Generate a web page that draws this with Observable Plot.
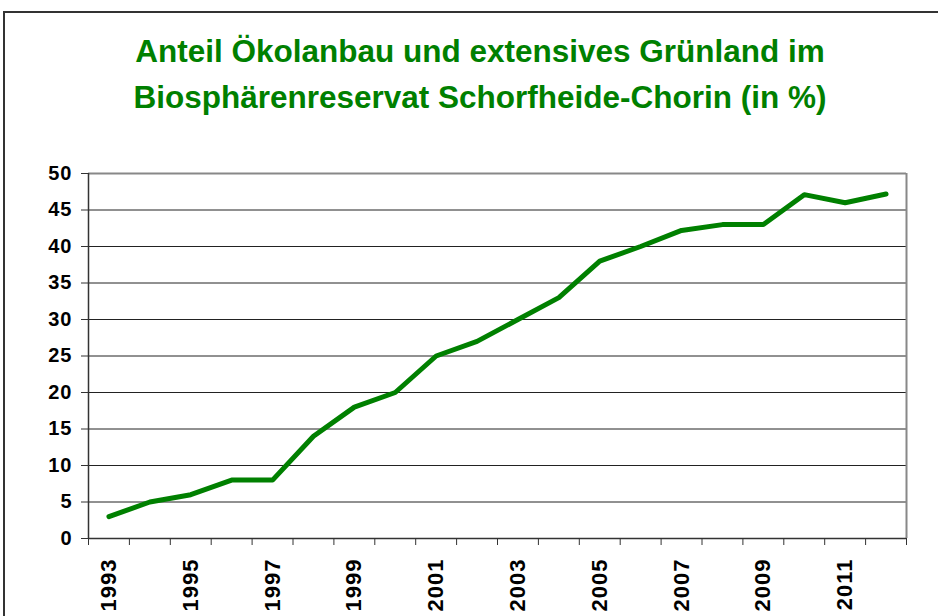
<!DOCTYPE html>
<html>
<head>
<meta charset="utf-8">
<script src="https://cdn.jsdelivr.net/npm/d3@7"></script>
<script src="https://cdn.jsdelivr.net/npm/@observablehq/plot@0.6"></script>
<style>
  html, body { margin: 0; padding: 0; background: #fff; overflow: hidden; }
  body { width: 938px; height: 616px; position: relative; font-family: "Liberation Sans", Arial, sans-serif; }
  #frame { position: absolute; left: 3px; top: 11px; width: 960px; height: 700px; border-left: 2px solid #333; border-top: 2px solid #333; box-sizing: border-box; }
  #title { position: absolute; left: 30px; width: 900px; top: 28px; text-align: center; color: #008000; font-weight: bold; font-size: 31.5px; line-height: 46px; }
  #chart { position: absolute; left: 0; top: 140px; }
  #chart svg text { font-weight: bold; }
  #chart g[aria-label="y-axis tick label"] text { letter-spacing: 1px; }
  #chart g[aria-label="x-axis tick label"] text { letter-spacing: 1px; }
</style>
</head>
<body>
<div id="frame"></div>
<div id="title">Anteil Ökolanbau und extensives Grünland im<br>Biosphärenreservat Schorfheide-Chorin (in %)</div>
<div id="chart"></div>
<script>
const years = [1993,1994,1995,1996,1997,1998,1999,2000,2001,2002,2003,2004,2005,2006,2007,2008,2009,2010,2011,2012];
const shares = [3,5,6,8,8,14,18,20,25,27,30,33,38,40,42.2,43,43,47.1,46,47.2];
const yTicks = [0,5,10,15,20,25,30,35,40,45,50];
const labelYears = [1993,1995,1997,1999,2001,2003,2005,2007,2009,2011];

const data = years.map((y, i) => ({year: y, value: shares[i]}));
const edges = years.map(y => y - 0.5).concat([years[years.length - 1] + 0.5]);
const font = "'Liberation Sans', Arial, sans-serif";

const chart = Plot.plot({
  width: 938,
  height: 480,
  marginLeft: 88,
  marginRight: 32,
  marginTop: 33,
  marginBottom: 82,
  style: {fontFamily: font, fontWeight: "bold", color: "#000", background: "transparent", overflow: "visible"},
  x: {type: "linear", domain: [edges[0], edges[edges.length - 1]], axis: null},
  y: {domain: [0, 50], axis: null},
  marks: [
    Plot.ruleY(yTicks.filter(d => d > 0 && d < 50), {stroke: "#222", strokeWidth: 1}),
    Plot.ruleY([50], {stroke: "#888", strokeWidth: 2}),
    Plot.ruleX([edges[edges.length - 1]], {stroke: "#888", strokeWidth: 2}),
    Plot.axisY({ticks: yTicks, tickSize: 7, tickPadding: 9, stroke: "#333", fontSize: 20, tickFormat: d => d, label: null}),
    Plot.ruleX([edges[0]], {stroke: "#333", strokeWidth: 1.5}),
    Plot.ruleY([0], {stroke: "#333", strokeWidth: 1.5}),
    Plot.axisX({ticks: edges, tickSize: 7, tickFormat: () => "", stroke: "#333", label: null}),
    Plot.axisX({ticks: labelYears, tickSize: 0, tickPadding: 20, tickRotate: -90, fontSize: 22, tickFormat: d => String(d), label: null}),
    Plot.lineY(data, {x: "year", y: "value", stroke: "#008000", strokeWidth: 5, strokeLinejoin: "round", strokeLinecap: "round"})
  ]
});
document.getElementById("chart").appendChild(chart);
</script>
</body>
</html>
